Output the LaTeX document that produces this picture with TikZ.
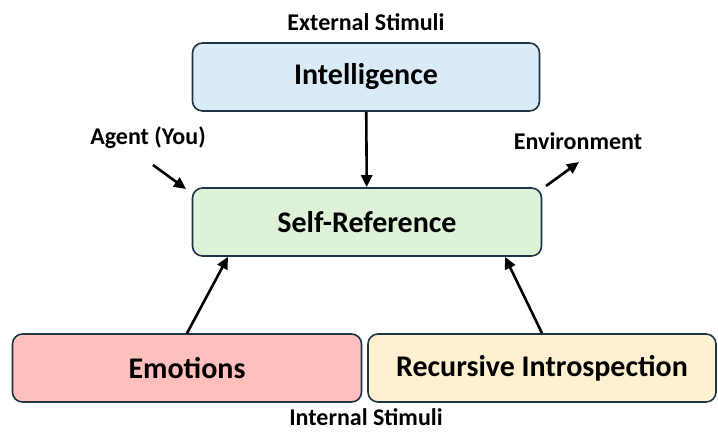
\documentclass[tikz,border=0pt]{standalone}
\usepackage{fontspec}
\setmainfont{Carlito}
\usetikzlibrary{arrows.meta}

\definecolor{boxline}{HTML}{1F3447}
\definecolor{intfill}{HTML}{DAEBF8}
\definecolor{selffill}{HTML}{DDF2D6}
\definecolor{emofill}{HTML}{FFBFBC}
\definecolor{recfill}{HTML}{FFF1CF}

\tikzset{
    box/.style = {draw=boxline, line width=1.6pt, rounded corners=10pt, minimum height=68pt,
                  font=\fontsize{30}{36}\selectfont\bfseries},
    tag/.style = {font=\fontsize{24}{28}\selectfont\bfseries},
    arr/.style = {line width=2.6pt, -{Triangle[length=12pt, width=11pt]}}
}

\begin{document}
\begin{tikzpicture}[x=1pt, y=-1pt]
    \useasboundingbox (0,0) rectangle (718,432);
    \node [box, fill=intfill, minimum width=347pt] (intel) at (366,77) {Intelligence};
    \node [box, fill=selffill, minimum width=349pt] (selfref) at (367,222) {Self-Reference};
    \node [box, fill=emofill, minimum width=349pt] (emo) at (187,368) {Emotions};
    \node [box, fill=recfill, minimum width=348pt] (recur) at (542,368) {Recursive Introspection};

    \node [tag] (ext) at (366,22) {External Stimuli};
    \node [tag] (agent) at (148,138) {Agent (You)};
    \node [tag] (env) at (578,141) {Environment};
    \node [tag] (int) at (366,417) {Internal Stimuli};

    \coordinate (agentA) at (153,165);
    \coordinate (agentB) at (186,189);
    \coordinate (envA) at (546,186);
    \coordinate (envB) at (579,162);

    \draw [arr] (intel) -- (selfref);
    \draw [arr] (emo.north) -- (selfref.south -| 228,0);
    \draw [arr] (recur.north) -- (selfref.south -| 505,0);
    \draw [arr] (agentA) -- (agentB);
    \draw [arr] (envA) -- (envB);
\end{tikzpicture}
\end{document}
